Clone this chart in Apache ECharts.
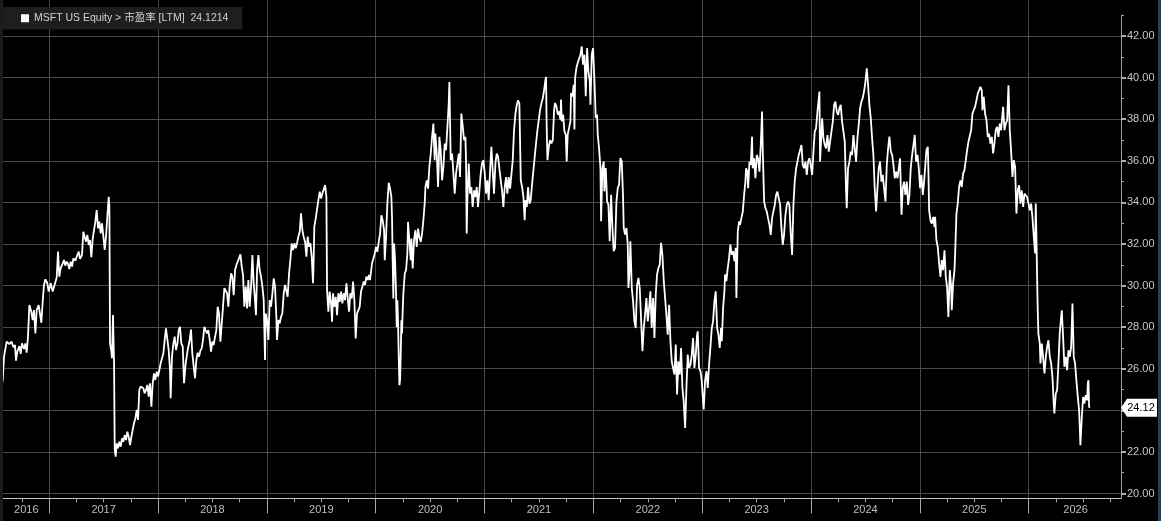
<!DOCTYPE html>
<html>
<head>
<meta charset="utf-8">
<script src="https://cdn.jsdelivr.net/npm/echarts@6/dist/echarts.min.js"></script>
<style>
html,body{margin:0;padding:0;background:#000;overflow:hidden;}
#wrap{position:relative;width:1161px;height:521px;}
#c{position:absolute;left:0;top:0;width:1161px;height:521px;}
#lb{position:absolute;left:0;top:0;width:3px;height:521px;background:#1b1b1b;}
#rb{position:absolute;right:0;top:0;width:3px;height:521px;background:#2a3e54;}
</style>
</head>
<body>
<div id="wrap"><div id="c"></div><div id="lb"></div><div id="rb"></div></div>
<script>
// ---- data (decimal year, trailing P/E) ----
const dates = [
2016.572,2016.585,2016.609,2016.634,2016.655,2016.671,2016.686,2016.695,2016.707,2016.726,2016.738,2016.750,2016.769,2016.781,2016.793,2016.805,2016.818,2016.836,2016.848,2016.860,2016.873,2016.885,2016.903,2016.916,2016.928,2016.940,2016.952,2016.965,2016.983,2016.995,
2017.014,2017.032,2017.050,2017.069,2017.081,2017.093,2017.105,2017.124,2017.136,2017.148,2017.161,2017.173,2017.185,2017.197,2017.210,2017.222,2017.240,2017.259,2017.271,2017.283,2017.301,2017.314,2017.326,2017.338,2017.351,2017.363,2017.375,2017.387,2017.400,2017.412,2017.424,2017.436,2017.449,2017.461,2017.473,2017.485,2017.498,2017.510,2017.522,2017.534,2017.547,2017.553,2017.559,2017.571,2017.577,2017.586,2017.596,2017.602,2017.611,2017.620,2017.632,2017.645,2017.657,2017.669,2017.681,2017.694,2017.706,2017.718,2017.730,2017.743,2017.755,2017.767,2017.779,2017.792,2017.804,2017.816,2017.828,2017.841,2017.853,2017.865,2017.877,2017.890,2017.902,2017.914,2017.926,2017.939,2017.951,2017.963,2017.975,2017.988,
2018.000,2018.012,2018.024,2018.037,2018.049,2018.061,2018.073,2018.086,2018.098,2018.110,2018.116,2018.128,2018.141,2018.153,2018.165,2018.178,2018.190,2018.202,2018.214,2018.227,2018.239,
2018.254,2018.272,2018.291,2018.303,2018.315,2018.328,2018.340,2018.352,2018.364,2018.377,
2018.389,2018.401,2018.413,2018.426,2018.438,2018.450,2018.462,2018.475,2018.487,2018.499,
2018.511,2018.524,2018.536,2018.548,2018.560,2018.573,2018.585,2018.597,2018.609,2018.622,
2018.634,2018.646,2018.658,2018.671,2018.683,2018.695,2018.708,2018.720,2018.732,2018.744,
2018.757,2018.769,2018.781,2018.793,2018.806,2018.818,2018.830,2018.842,2018.855,2018.867,
2018.879,2018.891,2018.900,2018.910,2018.922,2018.934,2018.946,2018.959,2018.971,2018.983,
2018.989,2019.002,2019.014,2019.026,2019.038,2019.051,2019.063,2019.075,2019.087,2019.093,
2019.106,2019.118,2019.130,2019.142,2019.155,2019.167,2019.179,2019.191,2019.204,2019.216,
2019.228,2019.240,2019.253,2019.265,2019.277,2019.289,2019.302,2019.314,2019.326,2019.338,
2019.351,2019.363,2019.375,2019.387,2019.400,2019.412,2019.424,2019.430,2019.436,2019.449,
2019.461,2019.473,2019.486,2019.498,2019.510,2019.522,2019.535,2019.547,2019.553,2019.565,
2019.577,2019.590,2019.599,2019.608,2019.620,2019.633,2019.645,2019.657,2019.669,2019.682,
2019.694,2019.706,2019.718,2019.731,2019.743,2019.755,2019.767,2019.780,2019.792,2019.804,
2019.816,2019.829,2019.841,2019.853,2019.865,2019.878,2019.890,2019.902,2019.914,2019.927,
2019.939,
2019.948,2019.966,2019.979,2019.991,2020.003,2020.015,2020.028,2020.040,2020.052,2020.064,
2020.077,2020.083,2020.095,2020.107,2020.120,2020.132,2020.144,2020.150,2020.156,2020.162,
2020.169,2020.178,2020.187,2020.193,2020.199,2020.205,2020.211,2020.218,2020.224,2020.230,
2020.236,2020.242,2020.248,2020.254,2020.267,2020.279,2020.291,2020.297,2020.309,2020.322,
2020.328,2020.340,2020.352,2020.365,2020.377,2020.389,2020.401,2020.414,2020.426,2020.438,
2020.450,2020.457,2020.469,2020.481,2020.493,2020.506,2020.518,2020.530,2020.542,2020.548,
2020.561,2020.573,2020.579,2020.585,2020.597,2020.610,2020.622,2020.634,2020.646,2020.659,
2020.671,2020.677,2020.683,2020.689,2020.702,2020.714,2020.726,2020.738,2020.751,2020.763,
2020.775,2020.787,2020.800,2020.812,2020.824,2020.830,2020.836,2020.842,2020.855,2020.867,
2020.879,2020.891,2020.904,2020.916,2020.928,2020.940,2020.953,2020.965,2020.977,2020.989,
2021.002,2021.014,2021.026,2021.038,2021.051,2021.063,2021.075,2021.087,2021.100,2021.112,
2021.124,2021.136,2021.149,2021.161,2021.173,2021.186,2021.198,2021.210,2021.222,2021.235,
2021.247,2021.259,2021.271,2021.284,2021.296,2021.308,2021.320,2021.333,2021.345,2021.357,
2021.369,2021.375,2021.388,2021.400,2021.412,2021.424,2021.437,2021.449,2021.461,2021.473,
2021.486,2021.498,2021.510,2021.522,2021.535,2021.547,2021.559,2021.565,2021.571,2021.578,
2021.590,2021.602,2021.614,2021.627,2021.639,
2021.648,2021.660,2021.673,2021.685,2021.697,2021.703,2021.709,2021.722,2021.734,2021.746,
2021.755,2021.764,2021.777,2021.789,2021.795,2021.807,2021.820,2021.826,2021.832,2021.844,
2021.856,2021.869,2021.881,2021.893,2021.905,2021.918,2021.930,2021.942,2021.954,2021.967,
2021.973,2021.985,2021.997,2022.009,2022.022,2022.034,2022.040,2022.052,2022.065,2022.071,
2022.083,2022.095,2022.101,2022.114,2022.126,2022.138,2022.150,2022.163,2022.175,2022.187,
2022.199,2022.212,2022.224,2022.236,2022.248,2022.261,2022.273,2022.279,2022.291,2022.304,
2022.316,2022.322,2022.334,2022.340,2022.353,2022.365,2022.377,2022.389,2022.402,2022.414,
2022.426,2022.438,2022.451,2022.463,2022.475,2022.487,2022.500,2022.512,2022.524,2022.536,
2022.549,2022.561,2022.573,2022.585,2022.598,2022.610,2022.622,2022.634,2022.647,2022.659,
2022.671,2022.683,2022.696,2022.708,2022.720,2022.732,2022.745,2022.757,2022.769,2022.781,
2022.794,2022.806,2022.818,2022.830,2022.843,2022.855,2022.867,2022.879,2022.892,2022.904,
2022.916,2022.928,2022.941,2022.953,2022.959,2022.971,2022.984,2022.996,2023.008,2023.014,
2023.026,2023.039,2023.051,2023.063,2023.075,2023.088,2023.100,2023.112,2023.124,2023.137,
2023.149,2023.161,2023.173,2023.180,2023.192,2023.204,2023.210,2023.222,2023.235,2023.247,
2023.259,2023.271,2023.284,2023.296,2023.308,2023.314,2023.327,2023.339,
2023.348,2023.360,2023.373,2023.385,2023.397,2023.403,2023.415,2023.422,2023.434,2023.446,
2023.458,2023.464,2023.477,2023.489,2023.501,2023.513,2023.526,2023.538,2023.550,2023.556,
2023.569,2023.581,2023.593,2023.605,2023.618,2023.630,2023.642,2023.654,2023.667,2023.679,
2023.691,2023.703,2023.716,2023.728,2023.740,2023.752,2023.765,2023.777,2023.789,2023.801,
2023.814,2023.826,2023.838,2023.850,2023.863,2023.875,2023.887,2023.899,2023.912,2023.924,
2023.936,2023.948,2023.961,2023.973,2023.985,2023.997,2024.010,2024.022,2024.034,2024.046,
2024.059,2024.071,2024.077,2024.083,2024.089,2024.102,2024.114,2024.126,2024.138,2024.151,
2024.163,2024.175,2024.187,2024.200,2024.212,2024.224,2024.236,2024.249,2024.261,2024.273,
2024.285,2024.298,2024.310,2024.322,2024.328,2024.340,2024.353,2024.365,2024.377,2024.389,
2024.402,2024.414,2024.426,2024.438,2024.451,2024.463,2024.475,2024.487,2024.500,2024.512,
2024.524,2024.536,2024.549,2024.561,2024.573,2024.585,2024.598,2024.610,2024.622,2024.634,
2024.647,2024.659,2024.671,2024.684,2024.696,2024.708,2024.720,2024.733,2024.745,2024.757,
2024.769,2024.782,2024.794,2024.806,2024.818,2024.831,2024.843,2024.855,2024.867,2024.880,
2024.892,2024.904,2024.916,2024.929,2024.941,2024.953,2024.965,2024.978,2024.990,2025.002,
2025.014,2025.027,2025.039,
2025.048,2025.060,2025.073,2025.079,2025.085,2025.097,2025.109,2025.122,2025.134,2025.140,
2025.152,2025.164,2025.177,2025.189,2025.201,2025.213,2025.226,2025.238,2025.250,2025.262,
2025.275,2025.287,2025.293,2025.305,2025.318,2025.324,2025.336,2025.348,2025.360,2025.373,
2025.385,2025.397,2025.409,2025.422,2025.434,2025.446,2025.458,2025.471,2025.483,2025.495,
2025.507,2025.520,2025.532,2025.544,2025.556,2025.569,2025.575,2025.587,2025.599,2025.612,
2025.624,2025.636,2025.648,2025.661,2025.673,2025.685,2025.697,2025.710,2025.722,2025.734,
2025.746,2025.759,2025.765,2025.777,2025.789,2025.802,2025.814,2025.826,2025.838,2025.851,
2025.863,2025.875,2025.887,2025.900,2025.912,2025.924,2025.936,2025.949,2025.961,2025.973,
2025.985,2025.998,2026.010,2026.022,2026.034,2026.047,2026.059,2026.065,2026.071,2026.077,
2026.083,2026.089,2026.102,2026.108,2026.120,2026.132,2026.145,2026.157,2026.169,2026.181,
2026.194,2026.206,2026.218,2026.230,2026.236,2026.249,2026.261,2026.273,2026.285,2026.298,
2026.304,2026.316,2026.328,2026.341,2026.353,2026.365,2026.377,2026.390,2026.402,2026.414,
2026.426,2026.438,2026.451,2026.463,2026.469,2026.475,2026.488,2026.500,2026.512,2026.524,
2026.537,2026.543,2026.549,2026.555,2026.561
];
const peRatio = [
25.38,26.58,27.30,27.19,27.30,27.03,27.14,26.39,26.82,27.09,26.71,27.22,26.95,27.22,26.77,27.54,29.06,28.74,28.34,28.82,27.70,28.82,29.06,28.98,28.21,29.22,30.03,30.30,30.11,29.71,
30.11,29.71,29.79,30.39,31.63,30.43,30.83,31.07,31.23,30.96,31.15,31.04,30.79,31.15,30.91,31.31,31.20,31.47,31.63,31.28,31.47,32.59,32.35,32.11,32.43,31.95,32.19,31.36,32.27,32.67,33.07,33.63,32.75,33.07,32.51,32.99,32.35,31.71,32.35,33.31,34.27,33.79,27.22,26.82,26.50,28.58,26.26,22.09,21.77,22.41,22.17,22.49,22.25,22.65,22.49,22.81,22.57,22.97,22.73,22.33,22.73,23.05,23.38,23.62,24.02,23.54,24.98,25.14,25.22,25.06,24.82,24.98,25.22,24.66,25.30,24.18,25.30,25.78,25.46,25.86,
25.62,25.94,26.26,26.34,26.74,27.38,27.94,28.02,26.90,25.94,24.58,26.58,27.22,27.54,26.90,27.22,27.86,28.02,27.22,27.06,25.30,
26.26,26.90,27.38,27.89,26.74,26.10,25.54,26.42,26.77,26.58,
26.87,26.98,27.38,28.02,27.83,27.70,27.86,27.38,26.82,27.30,
27.14,27.54,27.86,28.98,28.66,27.30,27.30,28.98,29.87,29.95,
29.63,28.98,29.95,30.59,30.43,29.54,30.75,30.99,31.07,31.31,
31.50,30.91,30.51,28.98,29.95,28.90,30.27,28.98,29.95,31.47,
30.11,29.30,28.58,30.75,31.47,30.75,30.43,29.95,29.30,26.42,
28.66,28.34,27.38,29.30,28.98,29.63,30.35,29.95,28.50,27.38,
28.34,28.18,28.50,28.66,29.63,30.03,29.95,29.46,30.59,31.23,
32.03,31.71,32.03,31.79,32.03,32.35,32.59,33.47,32.67,32.35,
32.11,31.39,32.35,31.87,32.03,31.39,30.11,31.23,32.83,33.23,
33.31,34.11,34.51,34.19,34.43,34.51,34.83,34.27,29.79,28.74,
29.71,29.14,28.26,29.63,28.98,29.46,28.58,29.63,29.22,29.71,
29.14,29.63,29.30,30.11,29.38,28.74,29.63,29.38,30.19,29.30,
27.46,28.66,28.82,28.98,29.71,29.95,30.19,30.03,30.43,30.27,
30.51,
30.26,31.06,31.30,31.54,31.86,31.62,32.10,32.50,33.38,33.14,
32.66,31.22,32.34,33.94,34.94,34.66,34.26,33.30,31.22,29.38,
32.02,31.22,29.62,28.01,29.29,28.33,26.73,25.21,25.45,26.73,
28.33,27.69,28.81,29.62,30.58,30.74,31.54,33.06,32.18,31.22,
32.26,30.82,32.18,32.66,31.86,32.74,32.34,32.10,32.50,33.14,
33.94,34.74,35.06,34.66,35.71,36.35,37.15,37.79,36.03,37.31,
36.35,34.74,35.71,37.15,36.51,35.06,35.71,36.83,36.51,37.63,
38.75,39.79,37.95,36.03,36.35,35.38,34.42,35.38,35.87,36.35,
35.22,38.27,37.63,36.99,37.15,36.03,32.50,34.10,35.87,34.42,
34.74,33.78,34.58,34.26,34.74,33.78,34.58,35.38,35.87,36.03,
35.38,34.42,35.06,34.10,35.54,36.67,35.54,34.42,35.87,36.35,
36.19,36.19,35.06,34.58,33.78,34.74,35.22,34.42,35.22,34.66,
34.58,36.03,37.47,38.27,38.67,38.91,38.75,35.06,34.74,34.26,
33.14,34.10,33.78,34.74,33.94,34.10,34.90,35.54,36.19,36.83,
37.47,37.95,38.43,38.75,38.99,39.39,39.87,40.03,37.63,36.03,
36.67,36.99,36.83,36.99,38.43,
38.78,38.62,38.22,38.38,37.98,38.94,37.90,38.22,37.42,37.26,
35.97,37.26,37.58,37.90,39.26,39.10,39.66,37.50,39.98,40.46,
40.70,40.78,41.10,41.50,40.62,41.10,39.10,41.42,40.30,39.82,
38.70,41.10,41.42,39.98,38.06,38.22,37.26,36.62,35.65,33.09,
35.65,35.97,34.53,35.65,34.05,33.89,32.13,34.37,32.77,31.65,
31.81,34.05,34.69,34.85,36.13,35.97,34.21,32.77,32.45,32.77,
31.97,29.88,30.85,32.13,29.88,29.24,28.28,27.96,30.04,30.37,
29.88,28.44,26.84,27.96,28.60,29.40,28.28,28.92,29.72,27.96,
29.40,27.48,29.56,30.53,30.85,31.01,32.05,31.49,30.21,29.40,
28.60,27.64,29.08,27.32,26.36,26.04,25.72,27.16,24.76,26.36,
25.72,27.00,25.08,24.44,23.15,25.08,26.68,26.04,26.20,26.68,
27.48,26.04,26.68,27.64,27.80,26.04,25.88,25.40,24.44,24.04,
25.40,25.88,25.08,26.20,27.00,27.96,28.28,29.24,29.72,27.96,
27.64,27.00,27.96,27.32,28.92,29.72,30.53,30.21,30.85,31.33,
31.97,31.49,31.65,31.17,31.81,29.40,32.61,33.09,
32.92,33.24,33.56,34.36,35.00,35.64,35.48,34.68,35.96,35.80,
37.16,35.64,36.12,35.16,36.28,36.12,35.48,36.76,38.37,36.60,
34.04,33.72,33.56,33.24,32.92,32.44,33.24,33.56,33.88,34.36,
34.52,34.20,33.88,32.76,31.96,32.44,33.40,33.88,34.04,33.88,
32.44,31.47,33.88,35.00,35.64,35.96,36.28,36.28,36.76,35.80,
35.64,35.96,35.32,35.96,36.12,35.80,35.32,36.44,37.40,37.56,
38.37,39.01,39.33,35.96,36.60,38.04,37.08,36.76,36.60,37.24,
36.44,36.92,36.92,37.88,38.69,38.85,38.37,38.21,38.53,38.69,
37.88,37.40,36.92,34.52,33.72,35.64,35.96,36.44,36.28,37.24,
37.24,35.96,37.08,37.72,38.53,38.85,39.01,39.33,39.81,40.45,
39.65,38.69,38.04,37.08,36.28,34.68,33.56,34.68,35.64,35.96,
35.00,35.32,34.68,34.04,35.80,36.60,37.16,36.44,36.28,35.80,
35.16,35.48,35.16,35.64,36.12,33.40,34.68,35.00,34.36,35.00,
33.88,34.36,35.64,36.28,36.76,37.24,35.96,36.28,35.64,34.68,
35.32,34.36,35.00,
35.06,36.51,36.67,35.38,33.62,33.14,32.98,33.30,32.82,33.30,
32.18,31.86,31.06,30.42,31.22,30.74,31.70,30.42,29.94,28.49,
30.74,29.94,28.81,30.10,30.74,31.54,33.46,33.94,34.74,35.06,
34.74,35.38,35.54,36.03,36.51,36.91,36.99,37.47,38.27,38.43,
38.59,38.91,39.23,39.39,39.55,39.39,38.43,39.07,38.27,37.95,
37.15,37.31,36.83,37.15,36.35,36.83,37.47,37.63,37.15,37.79,
37.47,38.27,38.59,37.47,37.79,37.95,39.63,37.47,36.51,35.22,
36.03,35.70,33.46,34.58,34.82,33.94,34.58,33.78,34.42,34.50,
34.26,33.94,33.62,33.94,33.30,32.34,31.54,33.94,32.34,30.42,
28.81,27.69,27.21,26.25,27.21,26.57,25.77,26.57,27.05,27.37,
26.57,26.25,25.61,24.33,23.85,24.81,24.97,26.25,27.69,28.49,
28.81,27.53,26.09,26.57,25.93,26.89,26.57,27.05,29.14,26.57,
26.25,25.45,24.65,24.01,23.21,22.32,23.69,24.65,24.33,24.73,
24.49,25.29,25.45,24.17,24.12
];
const seriesName = 'MSFT US Equity > 市盈率 [LTM]';
const lastValueFull = '24.1214';
const lastValueShort = '24.12';
const yearTicks = [2017,2018,2019,2020,2021,2022,2023,2024,2025,2026];
const quarterTicks = [2016.75,2017.25,2017.5,2017.75,2018.25,2018.5,2018.75,2019.25,2019.5,2019.75,2020.25,2020.5,2020.75,2021.25,2021.5,2021.75,2022.25,2022.5,2022.75,2023.25,2023.5,2023.75,2024.25,2024.5,2024.75,2025.25,2025.5,2025.75,2026.25,2026.5,2026.75];
const yearLabelPos = [2016.79,2017.5,2018.5,2019.5,2020.5,2021.5,2022.5,2023.5,2024.5,2025.5,2026.43];
const yMajor = [20,22,24,26,28,30,32,34,36,38,40,42];
const yMinor = [21,23,25,27,29,31,33,35,37,39,41,43];
const X_MIN = 2016.5755, X_MAX = 2026.848;
const Y_MIN = 19.77, Y_MAX = 43;

const FONT = "'Liberation Sans', 'Noto Sans CJK SC', sans-serif";
const chart = echarts.init(document.getElementById('c'), null, {renderer: 'canvas'});
const seriesData = dates.map((d, i) => [d, peRatio[i]]);
const gridPos = {left: 3, right: 40, bottom: 22.7};

chart.setOption({
  backgroundColor: '#000000',
  animation: false,
  grid: [
    Object.assign({top: 15.2}, gridPos),
    Object.assign({top: 0}, gridPos)
  ],
  legend: {
    data: [{name: seriesName, icon: 'rect'}],
    left: 3, top: 7,
    itemWidth: 8, itemHeight: 8, itemGap: 5,
    padding: [6, 14, 6, 18],
    backgroundColor: '#1e1e1e',
    formatter: n => n + '  ' + lastValueFull,
    textStyle: {color: '#d2d2d2', fontSize: 10.5, fontFamily: FONT},
    selectedMode: false
  },
  xAxis: [
    {
      gridIndex: 0, type: 'value', position: 'bottom', min: X_MIN, max: X_MAX,
      axisLine: {show: true, lineStyle: {color: '#c4c4c4', width: 1}},
      axisTick: {show: true, customValues: yearTicks, length: 15, lineStyle: {color: '#a8a8a8'}},
      axisLabel: {show: true, customValues: yearLabelPos, formatter: v => String(Math.floor(v)),
                  color: '#bfbfbf', fontSize: 11, fontFamily: FONT, margin: 6},
      splitLine: {show: false}
    },
    {
      gridIndex: 0, type: 'value', position: 'bottom', min: X_MIN, max: X_MAX,
      axisLine: {show: false},
      axisTick: {show: true, customValues: quarterTicks, length: 4, lineStyle: {color: '#a8a8a8'}},
      axisLabel: {show: false},
      splitLine: {show: false}
    },
    {
      gridIndex: 1, type: 'value', position: 'bottom', min: X_MIN, max: X_MAX,
      axisLine: {show: false},
      axisTick: {show: false, customValues: yearTicks},
      axisLabel: {show: false},
      splitLine: {show: true, lineStyle: {color: '#4a4a4a', width: 1}}
    }
  ],
  yAxis: [
    {
      gridIndex: 0, type: 'value', position: 'right', min: Y_MIN, max: Y_MAX,
      axisLine: {show: true, lineStyle: {color: '#a0a0a0', width: 1}},
      axisTick: {show: true, inside: false, customValues: yMajor, length: 5, lineStyle: {color: '#b0b0b0', width: 2}},
      axisLabel: {show: true, customValues: yMajor, formatter: v => v.toFixed(2),
                  color: '#c8c8c8', fontSize: 11, fontFamily: FONT, margin: 6},
      splitLine: {show: true, lineStyle: {color: '#4a4a4a', width: 1}}
    },
    {
      gridIndex: 0, type: 'value', position: 'right', min: Y_MIN, max: Y_MAX,
      axisLine: {show: false},
      axisTick: {show: true, customValues: yMinor, length: 3, lineStyle: {color: '#a0a0a0'}},
      axisLabel: {show: false},
      splitLine: {show: false}
    },
    {
      gridIndex: 1, type: 'value', show: false, min: 0, max: 1
    }
  ],
  series: [{
    name: seriesName,
    type: 'line',
    xAxisIndex: 0, yAxisIndex: 0,
    data: seriesData,
    showSymbol: false,
    symbol: 'none',
    color: '#ffffff',
    lineStyle: {color: '#ffffff', width: 1.8},
    z: 5,
    markPoint: {
      silent: true,
      symbol: 'path://M0,9 L6,0 L36,0 L36,18 L6,18 Z',
      symbolSize: [36, 18],
      symbolOffset: [18, 0],
      itemStyle: {color: '#ffffff'},
      label: {show: true, formatter: lastValueShort, color: '#000000', fontSize: 11, fontFamily: FONT, offset: [2, 0]},
      data: [{coord: [X_MAX, peRatio[peRatio.length - 1]]}]
    }
  }]
});
</script>
</body>
</html>
